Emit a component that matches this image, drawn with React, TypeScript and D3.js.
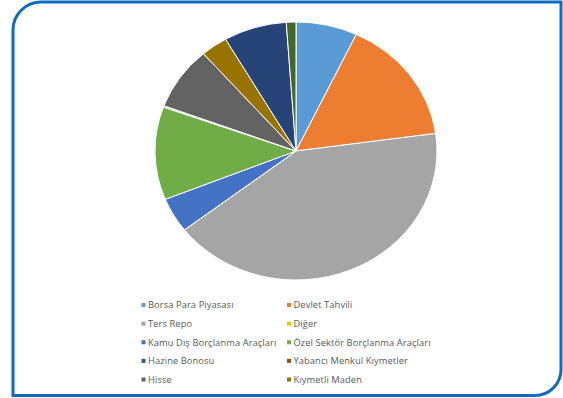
import React from "react";
import * as d3 from "d3";

const sliceNames = [
  "Borsa Para Piyasası",
  "Devlet Tahvili",
  "Ters Repo",
  "Diğer",
  "Kamu Dış Borçlanma Araçları",
  "Özel Sektör Borçlanma Araçları",
  "Hazine Bonosu",
  "Yabancı Menkul Kıymetler",
  "Hisse",
  "Kıymetli Maden",
  "Seri 11",
  "Seri 12",
];
const sliceValues = [7.03, 15.8, 41.7, 0, 4.36, 11.64, 0.17, 0, 7.9, 3.08, 7.22, 1.1];
const sliceColors = [
  "#5b9bd5", "#ed7d31", "#a5a5a5", "#ffc000", "#4472c4", "#70ad47",
  "#255e91", "#9e480e", "#636363", "#997300", "#264478", "#43682b",
];
const legendCount = 10;

const W = 563;
const H = 398;

export default function App() {
  const cx = 296, cy = 151, ry = 129, rx = 141;
  const pie = d3.pie<number>().sort(null).value((d) => d);
  const arcs = pie(sliceValues);
  const arc = d3.arc<d3.PieArcDatum<number>>().innerRadius(0).outerRadius(ry);

  const rowY = d3.scaleLinear().domain([0, 4]).range([305, 379.5]);
  const colX = [141.5, 287];

  const r1 = 28, r2 = 26;
  const L = 13, T = 2, R = 561, B = 395.5;
  const border = `M${L},${B} L${L},${T + r1} A${r1},${r1} 0 0 1 ${L + r1},${T} L${R},${T} L${R},${B - r2} A${r2},${r2} 0 0 1 ${R - r2},${B} Z`;

  return (
    <svg width={W} height={H} style={{ position: "absolute", left: 0, top: 0, background: "#fff" }}
      fontFamily="'Open Sans', sans-serif">
      <rect width={W} height={H} fill="#fff" />
      <path d={border} fill="none" stroke="#0e6cc0" strokeWidth={3} />
      <g transform={`translate(${cx},${cy}) scale(${rx / ry},1)`}>
        {arcs.map((a, i) => (
          <path key={i} d={arc(a) || ""} fill={sliceColors[i]} stroke="#fff" strokeWidth={1} vectorEffect="non-scaling-stroke" />
        ))}
      </g>
      {sliceNames.slice(0, legendCount).map((name, i) => {
        const col = i % 2;
        const row = Math.floor(i / 2);
        const y = rowY(row);
        return (
          <g key={name}>
            <rect x={colX[col]} y={y - 2} width={4} height={4} fill={sliceColors[i]} />
            <text x={colX[col] + 6.5} y={y} dy="0.35em" fontSize={9.3} fill="#595959" letterSpacing={0.1}>{name}</text>
          </g>
        );
      })}
    </svg>
  );
}
